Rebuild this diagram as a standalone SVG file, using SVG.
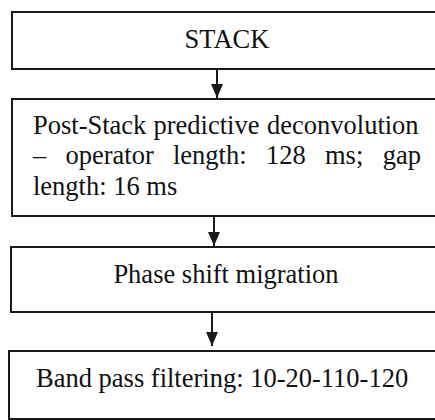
<svg xmlns="http://www.w3.org/2000/svg" width="435" height="420" viewBox="0 0 435 420">
  <style>
    .box { fill: #ffffff; stroke: #1a1a1a; stroke-width: 2; }
    .lbl { font-family: "Liberation Serif", "Times New Roman", serif; font-size: 26.5px; fill: #111111; }
    .mid { text-anchor: middle; }
    .edge { stroke: #1a1a1a; stroke-width: 2; fill: none; marker-end: url(#arrow); }
  </style>
  <defs>
    <marker id="arrow" markerUnits="userSpaceOnUse" markerWidth="14" markerHeight="16" viewBox="0 0 14 16" refX="14" refY="6" orient="auto">
      <path d="M0,0 L14,6 L0,12 Z" fill="#1a1a1a"/>
    </marker>
  </defs>
  <rect width="435" height="420" fill="#ffffff"/>

  <g id="node-stack">
    <rect class="box" x="12" y="12" width="440" height="57"/>
    <text class="lbl mid" x="227" y="48">STACK</text>
  </g>

  <g id="node-decon">
    <rect class="box" x="12" y="99" width="440" height="117"/>
    <text class="lbl" y="134"><tspan x="33">Post-Stack</tspan><tspan x="153.5">predictive</tspan><tspan x="267">deconvolution</tspan></text>
    <text class="lbl" y="164"><tspan x="33">–</tspan><tspan x="65.5">operator</tspan><tspan x="173">length:</tspan><tspan x="266">128</tspan><tspan x="325">ms;</tspan><tspan x="382.7">gap</tspan></text>
    <text class="lbl" x="33" y="195">length: 16 ms</text>
  </g>

  <g id="node-migration">
    <rect class="box" x="11" y="247" width="440" height="65"/>
    <text class="lbl mid" x="226" y="283">Phase shift migration</text>
  </g>

  <g id="node-bandpass">
    <rect class="box" x="9" y="351" width="440" height="68"/>
    <text class="lbl" x="36" y="387">Band pass filtering: 10-20-110-120</text>
  </g>

  <g id="connectors">
    <line class="edge" x1="217" y1="69" x2="217" y2="98"/>
    <line class="edge" x1="214" y1="216" x2="214" y2="246"/>
    <line class="edge" x1="212" y1="312" x2="212" y2="346"/>
  </g>
</svg>
